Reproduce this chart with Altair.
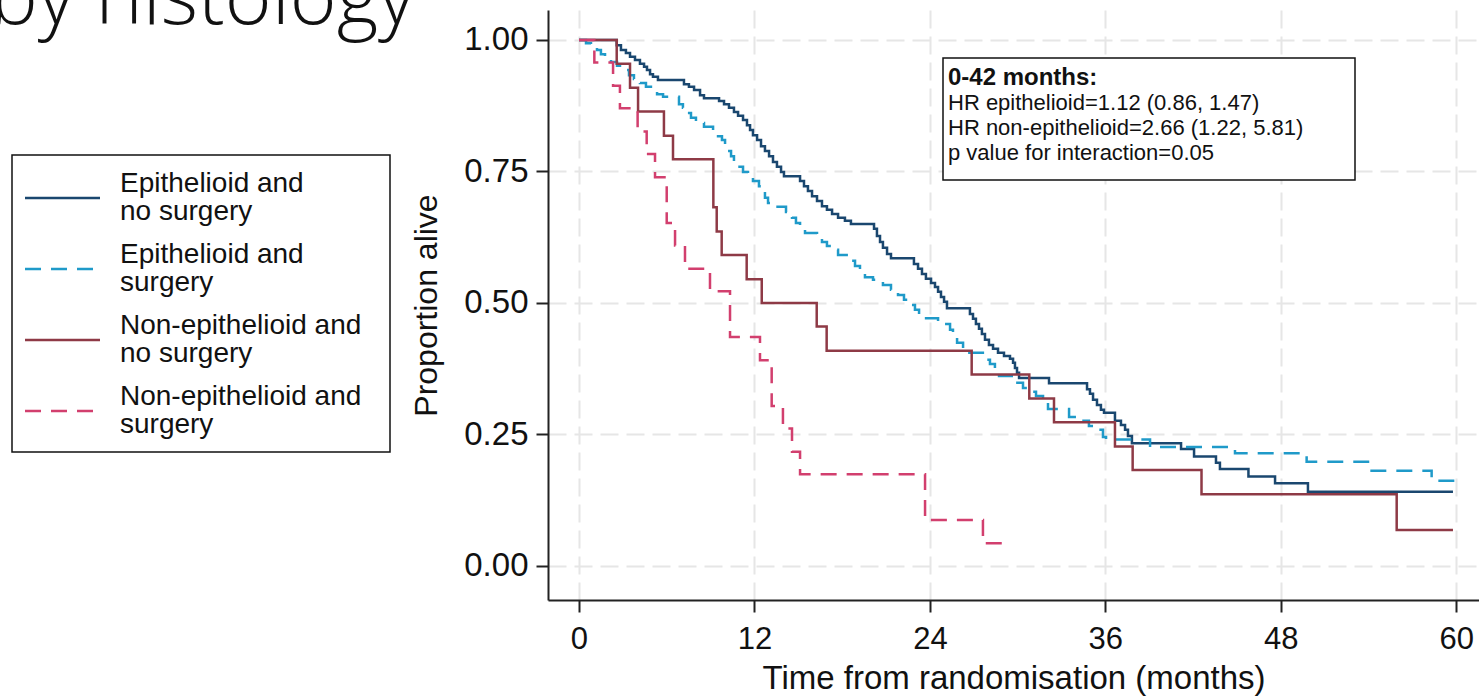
import altair as alt
import pandas as pd

# ---- Kaplan-Meier estimates: months from randomisation / proportion alive ----
epi_nosurg_t = [0, 2.58, 2.87, 3.21, 3.49, 3.83, 4.17, 4.45, 4.65, 4.86, 5.06, 5.40, 7.18, 7.52, 7.87,
                8.28, 8.55, 9.58, 9.92, 10.26, 10.60, 10.88, 11.22, 11.49, 11.70, 11.90, 12.18, 12.45,
                12.72, 13.00, 13.27, 13.54, 13.82, 14.02, 15.12, 15.39, 15.66, 15.94, 16.28, 16.62,
                16.96, 17.31, 17.72, 18.19, 18.60, 20.18, 20.38, 20.59, 20.79, 21.07, 21.34, 22.91,
                23.19, 23.46, 23.73, 24.08, 24.35, 24.56, 24.76, 24.97, 25.17, 26.74, 26.95, 27.15,
                27.36, 27.56, 27.77, 28.04, 28.32, 28.66, 29.07, 29.48, 29.69, 29.82, 29.96, 30.10,
                32.15, 34.75, 34.95, 35.16, 35.43, 35.70, 35.91, 36.66, 37.07, 37.35, 37.55, 37.82,
                41.18, 42.07, 43.57, 43.84, 45.79, 47.61, 49.86, 59.78]
epi_nosurg_s = [1.000, 0.990, 0.981, 0.975, 0.968, 0.962, 0.955, 0.949, 0.943, 0.935, 0.930, 0.924,
                0.916, 0.911, 0.905, 0.895, 0.889, 0.884, 0.878, 0.871, 0.863, 0.856, 0.848, 0.838,
                0.829, 0.819, 0.810, 0.798, 0.789, 0.779, 0.768, 0.759, 0.749, 0.741, 0.732, 0.722,
                0.713, 0.703, 0.694, 0.684, 0.677, 0.669, 0.662, 0.656, 0.650, 0.641, 0.627, 0.616,
                0.605, 0.593, 0.585, 0.574, 0.565, 0.555, 0.546, 0.538, 0.530, 0.521, 0.511, 0.502,
                0.490, 0.479, 0.470, 0.460, 0.451, 0.441, 0.430, 0.420, 0.413, 0.405, 0.399, 0.394,
                0.386, 0.376, 0.367, 0.357, 0.347, 0.336, 0.327, 0.316, 0.306, 0.297, 0.291, 0.276,
                0.268, 0.259, 0.247, 0.233, 0.222, 0.208, 0.196, 0.184, 0.170, 0.157, 0.141, 0.141]

epi_surg_t = [0, 0.48, 0.82, 1.23, 1.50, 1.78, 2.19, 2.60, 3.08, 3.42, 3.76, 4.17, 4.58, 4.92, 5.34,
              5.75, 6.84, 7.11, 7.39, 7.66, 8.00, 8.55, 9.17, 9.51, 9.78, 9.99, 10.19, 10.40, 10.60,
              10.88, 11.22, 11.56, 11.90, 12.31, 12.52, 12.72, 12.93, 13.47, 14.16, 14.57, 14.84,
              15.12, 15.46, 16.28, 16.62, 16.96, 17.37, 17.72, 18.54, 18.88, 19.22, 19.56, 20.11,
              20.79, 21.34, 21.82, 22.23, 22.64, 22.98, 23.26, 24.56, 25.38, 25.58, 25.86, 26.27,
              26.47, 27.84, 28.11, 28.45, 28.73, 29.89, 30.37, 30.85, 31.26, 31.74, 32.08, 33.52,
              34.06, 34.88, 35.43, 35.84, 36.05, 39.06, 44.87, 49.77, 54.10, 58.32, 59.92]
epi_surg_s = [1.000, 0.994, 0.989, 0.981, 0.973, 0.966, 0.958, 0.951, 0.943, 0.933, 0.926, 0.918,
              0.911, 0.903, 0.897, 0.892, 0.878, 0.871, 0.861, 0.852, 0.842, 0.835, 0.825, 0.817,
              0.810, 0.798, 0.789, 0.779, 0.768, 0.759, 0.749, 0.740, 0.732, 0.722, 0.711, 0.700,
              0.690, 0.683, 0.673, 0.662, 0.652, 0.643, 0.633, 0.625, 0.616, 0.608, 0.601, 0.591,
              0.580, 0.570, 0.561, 0.549, 0.544, 0.534, 0.525, 0.515, 0.506, 0.496, 0.487, 0.471,
              0.460, 0.449, 0.435, 0.424, 0.411, 0.405, 0.392, 0.384, 0.375, 0.361, 0.348, 0.338,
              0.331, 0.323, 0.314, 0.298, 0.283, 0.276, 0.266, 0.259, 0.245, 0.240, 0.226, 0.214,
              0.198, 0.181, 0.162, 0.162]

nonepi_nosurg_t = [0, 2.58, 3.49, 4.04, 5.81, 6.43, 9.19, 9.42, 9.76, 11.47, 12.50, 16.26, 16.94,
                   26.86, 30.80, 32.49, 36.66, 37.87, 42.58, 55.93, 59.78]
nonepi_nosurg_s = [1.000, 0.955, 0.909, 0.864, 0.818, 0.773, 0.682, 0.636, 0.591, 0.545, 0.500,
                   0.455, 0.409, 0.364, 0.318, 0.273, 0.227, 0.182, 0.136, 0.068, 0.068]

nonepi_surg_t = [0, 1.05, 2.33, 2.80, 4.01, 4.63, 5.20, 6.00, 6.57, 7.25, 8.96, 10.33, 12.38, 13.18,
                 13.95, 14.57, 15.12, 23.67, 27.63, 29.48]
nonepi_surg_s = [1.000, 0.957, 0.913, 0.870, 0.826, 0.783, 0.739, 0.652, 0.609, 0.565, 0.522, 0.435,
                 0.391, 0.304, 0.261, 0.217, 0.174, 0.087, 0.043, 0.043]

# ---- groups, styling per group ----
series_names = [
    "Epithelioid and\nno surgery",
    "Epithelioid and\nsurgery",
    "Non-epithelioid and\nno surgery",
    "Non-epithelioid and\nsurgery",
]
series_colors = ["#1a476f", "#1f9ac9", "#8e3a46", "#d23f6e"]
series_dashes = [[1, 0], [16, 10], [1, 0], [16, 10]]

x_ticks = [0, 12, 24, 36, 48, 60]
y_ticks = [0.0, 0.25, 0.5, 0.75, 1.0]

heading_text = "by histology"
annotation_head = "0-42 months:"
annotation_lines = [
    "HR epithelioid=1.12 (0.86, 1.47)",
    "HR non-epithelioid=2.66 (1.22, 5.81)",
    "p value for interaction=0.05",
]

FONT = "Liberation Sans"

rows = []
for name, ts, ss in zip(
    series_names,
    [epi_nosurg_t, epi_surg_t, nonepi_nosurg_t, nonepi_surg_t],
    [epi_nosurg_s, epi_surg_s, nonepi_nosurg_s, nonepi_surg_s],
):
    for t, s in zip(ts, ss):
        rows.append({"group": name, "months": t, "alive": s})
km = pd.DataFrame(rows)

legend_rows = pd.DataFrame({"group": series_names, "slot": list(range(len(series_names)))})

color_scale = alt.Scale(domain=series_names, range=series_colors)
dash_scale = alt.Scale(domain=series_names, range=series_dashes)

curves = alt.Chart(km).mark_line(interpolate="step-after", strokeWidth=2.5).encode(
    x=alt.X(
        "months:Q",
        scale=alt.Scale(domain=[-2.12, 61.56], nice=False, zero=False),
        axis=alt.Axis(values=x_ticks, title="Time from randomisation (months)",
                      labelPadding=12, titlePadding=8, labelFontSize=31, titleFontSize=33),
    ),
    y=alt.Y(
        "alive:Q",
        scale=alt.Scale(domain=[-0.065, 1.057], nice=False, zero=False),
        axis=alt.Axis(values=y_ticks, format=".2f", title="Proportion alive",
                      labelPadding=8, titlePadding=20, labelFontSize=33, titleFontSize=32),
    ),
    color=alt.Color("group:N", scale=color_scale, legend=None),
    strokeDash=alt.StrokeDash("group:N", scale=dash_scale, legend=None),
)

one_row = pd.DataFrame({"k": [0]})

# key to the four groups, placed left of the plot
slot_y = alt.Y("slot:Q", scale=alt.Scale(domain=[0, 3], range=[188, 401]), axis=None)
key_box = alt.Chart(one_row).mark_rect(fill="white", stroke="#111111", strokeWidth=1.5).encode(
    x=alt.value(-536), x2=alt.value(-158), y=alt.value(145), y2=alt.value(442)
)
key_lines = alt.Chart(legend_rows).mark_rule(strokeWidth=2.5).encode(
    x=alt.value(-523), x2=alt.value(-448), y=slot_y,
    color=alt.Color("group:N", scale=color_scale, legend=None),
    strokeDash=alt.StrokeDash("group:N", scale=dash_scale, legend=None),
)
key_text = alt.Chart(legend_rows).mark_text(
    align="left", baseline="middle", lineBreak="\n", lineHeight=28, dy=-14,
    font=FONT, fontSize=28, color="#111111"
).encode(x=alt.value(-428), y=slot_y, text="group:N")

# boxed hazard-ratio note
note_box = alt.Chart(one_row).mark_rect(fill="white", stroke="#111111", strokeWidth=1.5).encode(
    x=alt.value(395), x2=alt.value(807), y=alt.value(48), y2=alt.value(170)
)
note_head = alt.Chart(one_row).mark_text(
    align="left", baseline="alphabetic", font=FONT, fontSize=24, fontWeight="bold", color="#111111"
).encode(x=alt.value(400), y=alt.value(75), text=alt.value(annotation_head))
note_body = alt.Chart(one_row).mark_text(
    align="left", baseline="alphabetic", font=FONT, fontSize=22, lineHeight=25, color="#111111"
).encode(x=alt.value(400), y=alt.value(100), text=alt.value(annotation_lines))

heading = alt.Chart(one_row).mark_text(
    align="right", baseline="alphabetic", font="Open Sans", fontSize=80, fontWeight=300,
    color="#111111"
).encode(x=alt.value(-133), y=alt.value(14), text=alt.value(heading_text))

chart = alt.layer(
    curves, key_box, key_lines, key_text, note_box, note_head, note_body, heading
).resolve_scale(y="independent").properties(
    width=931,
    height=590,
    padding={"left": 548, "top": 10, "right": 0, "bottom": 96},
    autosize=alt.AutoSizeParams(type="none"),
    background="white",
).configure_view(stroke=None).configure_axis(
    domainColor="#222222",
    domainWidth=2,
    tickColor="#222222",
    tickWidth=2,
    tickSize=12,
    labelFont=FONT,
    labelColor="#111111",
    titleFont=FONT,
    titleFontWeight="normal",
    titleColor="#111111",
    grid=True,
    gridColor="#e6e6e6",
    gridDash=[18, 8],
    gridWidth=2,
)

chart.save("out.html", embed_options={"renderer": "svg", "actions": False})
